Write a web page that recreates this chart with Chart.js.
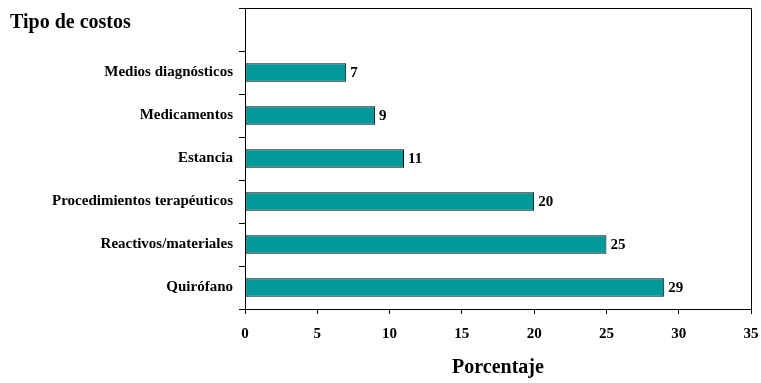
<!DOCTYPE html>
<html>
<head>
<meta charset="utf-8">
<script src="https://cdn.jsdelivr.net/npm/chart.js@4.4.1/dist/chart.umd.min.js"></script>
<style>
html,body{margin:0;padding:0;background:#fff;}
#wrap{width:761px;height:383px;}
</style>
</head>
<body>
<div id="wrap"><canvas id="c" width="761" height="383"></canvas></div>
<script>
const categories = ['', 'Medios diagnósticos', 'Medicamentos', 'Estancia', 'Procedimientos terapéuticos', 'Reactivos/materiales', 'Quirófano'];
const values = [null, 7, 9, 11, 20, 25, 29];
const xTicks = [0, 5, 10, 15, 20, 25, 30, 35];
const yTitle = 'Tipo de costos';
const xTitle = 'Porcentaje';

const FONT = "'Liberation Serif', 'Times New Roman', serif";

const extras = {
  id: 'extras',
  afterDatasetsDraw(chart) {
    const ctx = chart.ctx;
    const meta = chart.getDatasetMeta(0);
    ctx.save();
    ctx.font = 'bold 15px ' + FONT;
    ctx.fillStyle = '#000';
    ctx.textAlign = 'left';
    ctx.textBaseline = 'middle';
    meta.data.forEach((el, i) => {
      const v = values[i];
      if (v === null || v === undefined) return;
      ctx.fillText(String(v), el.x + 4, el.y + 1);
    });
    ctx.restore();
  },
  afterDraw(chart) {
    const ctx = chart.ctx;
    const a = chart.chartArea;
    ctx.save();
    ctx.strokeStyle = '#000';
    ctx.lineWidth = 1;
    ctx.beginPath();
    ctx.moveTo(a.left, a.top + 0.5);
    ctx.lineTo(a.right + 0.5, a.top + 0.5);
    ctx.lineTo(a.right + 0.5, a.bottom);
    ctx.stroke();
    const yScale = chart.scales.y;
    const yc = yScale.getPixelForValue(0);
    ctx.font = 'bold 20px ' + FONT;
    ctx.fillStyle = '#000';
    ctx.textAlign = 'left';
    ctx.textBaseline = 'middle';
    ctx.fillText(yTitle, 10, yc - 7);
    ctx.restore();
  }
};

const chart = new Chart(document.getElementById('c'), {
  type: 'bar',
  data: {
    labels: categories,
    datasets: [{
      data: values,
      backgroundColor: '#009999',
      borderColor: '#000',
      borderWidth: 1,
      borderSkipped: false,
      categoryPercentage: 1,
      barPercentage: 0.43
    }]
  },
  options: {
    indexAxis: 'y',
    responsive: false,
    animation: false,
    devicePixelRatio: 1,
    layout: { padding: { top: 8, right: 10, left: 0, bottom: 0 } },
    plugins: { legend: { display: false }, tooltip: { enabled: false }, title: { display: false } },
    scales: {
      x: {
        type: 'linear',
        min: 0,
        max: 35,
        afterBuildTicks(scale) { scale.ticks = xTicks.map(v => ({ value: v })); },
        afterFit(scale) { scale.height = 74; scale.paddingLeft = 0; scale.paddingRight = 0; },
        grid: { drawOnChartArea: false, color: '#000', tickLength: 5, tickColor: '#000' },
        border: { display: true, color: '#000', width: 1 },
        ticks: { color: '#000', padding: 11, maxRotation: 0, font: { family: FONT, size: 15, weight: 'bold' } },
        title: { display: true, text: xTitle, color: '#000', padding: { top: 8, bottom: 3 }, font: { family: FONT, size: 20, weight: 'bold' } }
      },
      y: {
        type: 'category',
        afterFit(scale) { scale.width = 245; scale.paddingTop = 0; scale.paddingBottom = 0; },
        grid: { drawOnChartArea: false, color: '#000', tickLength: 6, tickColor: '#000', offset: true },
        border: { display: true, color: '#000', width: 1 },
        ticks: { color: '#000', padding: 6, autoSkip: false, font: { family: FONT, size: 15, weight: 'bold' } }
      }
    }
  },
  plugins: [extras]
});
</script>
</body>
</html>
